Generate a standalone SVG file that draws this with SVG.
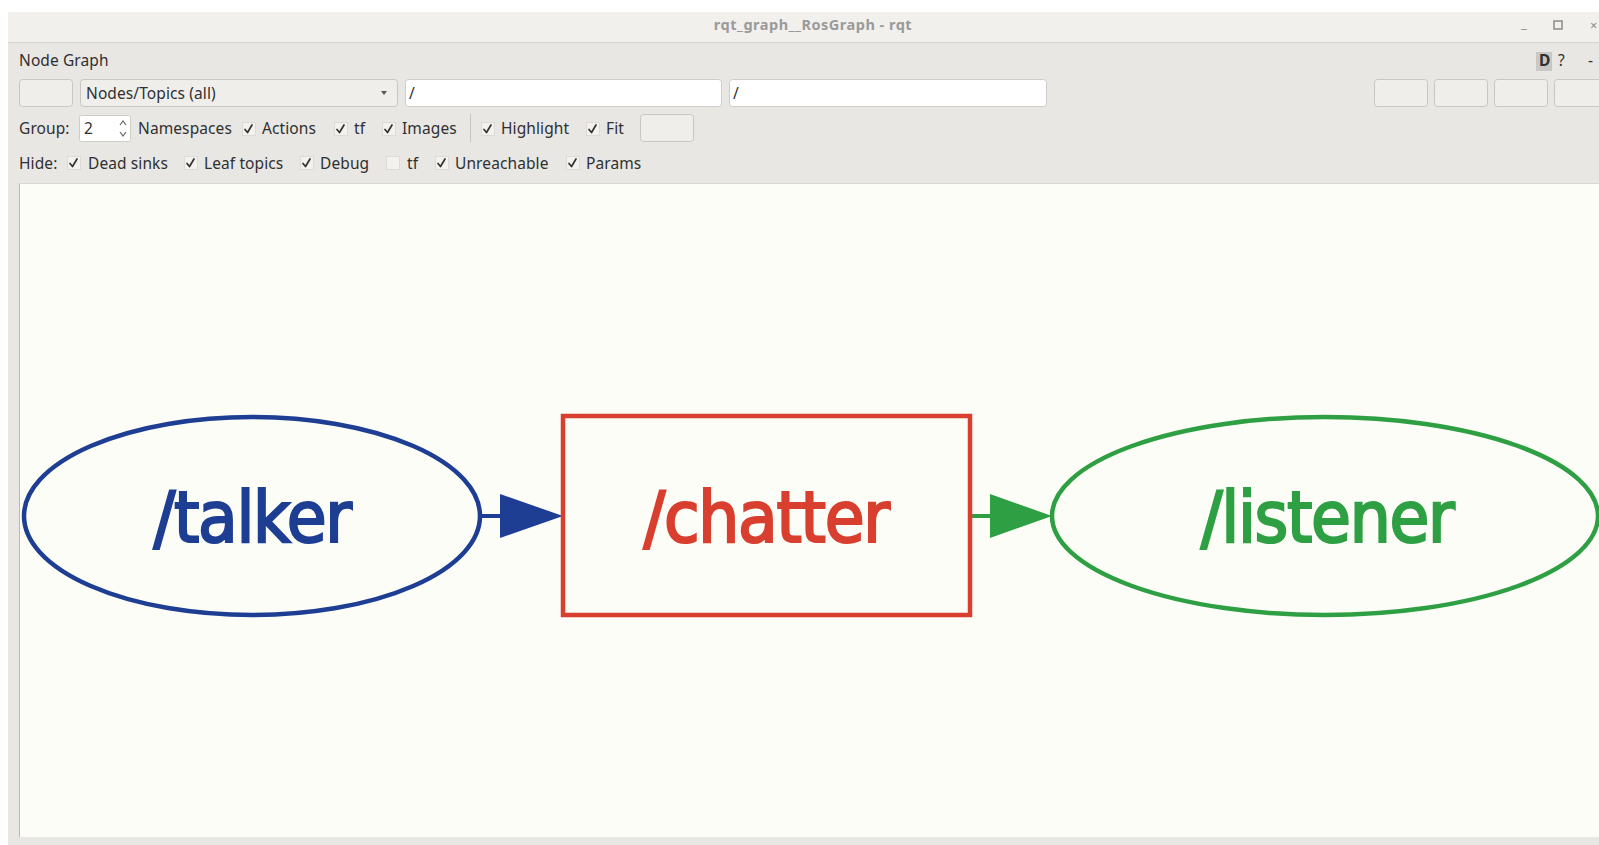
<svg xmlns="http://www.w3.org/2000/svg" width="1599" height="845" viewBox="0 0 1599 845">
  <style>
    .ui { font-family: "Noto Sans", "DejaVu Sans", sans-serif; font-size: 15.5px; fill: #303030; letter-spacing: 0.1px; }
    .title { font-family: "Noto Sans", "DejaVu Sans", sans-serif; font-size: 14.5px; font-weight: bold; fill: #9a9a9a; letter-spacing: 0.5px; }
    .ctl { font-family: "Noto Sans", "DejaVu Sans", sans-serif; font-size: 13px; fill: #8c8c8c; }
    .btn { fill: #efeeeb; stroke: #c9c7c2; stroke-width: 1; }
    .field { fill: #ffffff; stroke: #cfcdc8; stroke-width: 1; }
    .cb { fill: #f3f2ef; stroke: #dddbd6; stroke-width: 1; }
    .tick { fill: none; stroke: #333; stroke-width: 1.7; stroke-linecap: round; stroke-linejoin: round; }
    .label { font-family: "DejaVu Sans Condensed", "DejaVu Sans", sans-serif; font-size: 72px; text-anchor: middle; stroke-width: 2.2; letter-spacing: -1.3px; }
  </style>
  <defs>
    <path id="chk" d="M3,7.5 L5.5,10.5 L10,3" class="tick"/>
  </defs>

  <!-- screen background and window frame -->
  <rect x="0" y="0" width="1599" height="845" fill="#ffffff"/>
  <rect x="8" y="12" width="1591" height="833" fill="#e8e7e3"/>

  <!-- title bar -->
  <rect x="8" y="12" width="1591" height="30" fill="#f2f0ec"/>
  <line x1="8" y1="42.5" x2="1599" y2="42.5" stroke="#d4d2cd"/>
  <text class="title" x="813" y="30" text-anchor="middle">rqt_graph__RosGraph - rqt</text>
  <text class="ctl" x="1521" y="28">_</text>
  <rect x="1554" y="21" width="8" height="8" fill="none" stroke="#8c8c8c" stroke-width="1.5"/>
  <text class="ctl" x="1590" y="30">×</text>

  <!-- plugin header -->
  <text class="ui" x="19" y="66">Node Graph</text>
  <rect x="1536" y="52" width="16" height="19" fill="#c9c8c4"/>
  <text class="ui" x="1539" y="66" style="font-weight:bold">D</text>
  <text class="ui" x="1558" y="66">?</text>
  <text class="ui" x="1588" y="66">-</text>

  <!-- filter row -->
  <rect class="btn" x="19.5" y="79.5" width="53" height="27" rx="3"/>
  <rect class="btn" x="80.5" y="79.5" width="317" height="27" rx="3"/>
  <text class="ui" x="86" y="99">Nodes/Topics (all)</text>
  <path d="M381,91 L387,91 L384,95 Z" fill="#555"/>
  <rect class="field" x="405.5" y="79.5" width="316" height="27" rx="3"/>
  <text class="ui" x="409" y="99">/</text>
  <rect class="field" x="729.5" y="79.5" width="317" height="27" rx="3"/>
  <text class="ui" x="733" y="99">/</text>
  <rect class="btn" x="1374.5" y="79.5" width="53" height="27" rx="3"/>
  <rect class="btn" x="1434.5" y="79.5" width="53" height="27" rx="3"/>
  <rect class="btn" x="1494.5" y="79.5" width="53" height="27" rx="3"/>
  <rect class="btn" x="1554.5" y="79.5" width="53" height="27" rx="3"/>

  <!-- options row -->
  <text class="ui" x="19" y="134">Group:</text>
  <rect class="field" x="79.5" y="115.5" width="51" height="26" rx="2"/>
  <text class="ui" x="84" y="134">2</text>
  <path d="M120,125 L123,121 L126,125 M120,132 L123,136 L126,132" fill="none" stroke="#666" stroke-width="1.2"/>
  <text class="ui" x="138" y="134">Namespaces</text>
  <rect class="cb" x="242.5" y="122.5" width="13" height="13"/><use href="#chk" x="242" y="122"/>
  <text class="ui" x="262" y="134">Actions</text>
  <rect class="cb" x="334.5" y="122.5" width="13" height="13"/><use href="#chk" x="334" y="122"/>
  <text class="ui" x="354" y="134">tf</text>
  <rect class="cb" x="382.5" y="122.5" width="13" height="13"/><use href="#chk" x="382" y="122"/>
  <text class="ui" x="402" y="134">Images</text>
  <line x1="470.5" y1="114" x2="470.5" y2="142" stroke="#c9c7c2"/>
  <rect class="cb" x="481.5" y="122.5" width="13" height="13"/><use href="#chk" x="481" y="122"/>
  <text class="ui" x="501" y="134">Highlight</text>
  <rect class="cb" x="586.5" y="122.5" width="13" height="13"/><use href="#chk" x="586" y="122"/>
  <text class="ui" x="606" y="134">Fit</text>
  <rect class="btn" x="640.5" y="114.5" width="53" height="27" rx="3"/>

  <!-- hide row -->
  <text class="ui" x="19" y="169">Hide:</text>
  <rect class="cb" x="67.5" y="156.5" width="13" height="13"/><use href="#chk" x="67" y="156"/>
  <text class="ui" x="88" y="169">Dead sinks</text>
  <rect class="cb" x="184.5" y="156.5" width="13" height="13"/><use href="#chk" x="184" y="156"/>
  <text class="ui" x="204" y="169">Leaf topics</text>
  <rect class="cb" x="300.5" y="156.5" width="13" height="13"/><use href="#chk" x="300" y="156"/>
  <text class="ui" x="320" y="169">Debug</text>
  <rect class="cb" x="386.5" y="156.5" width="13" height="13"/>
  <text class="ui" x="407" y="169">tf</text>
  <rect class="cb" x="435.5" y="156.5" width="13" height="13"/><use href="#chk" x="435" y="156"/>
  <text class="ui" x="455" y="169">Unreachable</text>
  <rect class="cb" x="566.5" y="156.5" width="13" height="13"/><use href="#chk" x="566" y="156"/>
  <text class="ui" x="586" y="169">Params</text>

  <!-- graph canvas -->
  <rect x="19" y="183" width="1580" height="654" fill="#fdfdf8"/>
  <line x1="19.5" y1="183" x2="19.5" y2="837" stroke="#b9b8b3" stroke-width="1"/>
  <line x1="19" y1="183.5" x2="1599" y2="183.5" stroke="#d9d8d3" stroke-width="1"/>

  <!-- connectors -->
  <g id="edges">
    <g id="edge-talker-chatter">
      <line x1="480" y1="516" x2="500" y2="516" stroke="#1d3e93" stroke-width="4"/>
      <path d="M500,494 L563,516 L500,538 Z" fill="#1d3e93"/>
    </g>
    <g id="edge-chatter-listener">
      <line x1="970" y1="516" x2="990" y2="516" stroke="#2ea043" stroke-width="4"/>
      <path d="M990,494 L1052,516 L990,538 Z" fill="#2ea043"/>
    </g>
  </g>

  <!-- nodes -->
  <g id="node-talker">
    <ellipse cx="252" cy="516" rx="228" ry="99" fill="none" stroke="#1d3e93" stroke-width="4.5"/>
    <text class="label" x="252" y="542" fill="#1d3e93" stroke="#1d3e93">/talker</text>
  </g>
  <g id="node-chatter">
    <rect x="563" y="416" width="407" height="199" fill="none" stroke="#d83f2f" stroke-width="4.5"/>
    <text class="label" x="766" y="542" fill="#d83f2f" stroke="#d83f2f">/chatter</text>
  </g>
  <g id="node-listener">
    <ellipse cx="1325" cy="516" rx="273" ry="99" fill="none" stroke="#2ea043" stroke-width="4.5"/>
    <text class="label" x="1327" y="542" fill="#2ea043" stroke="#2ea043">/listener</text>
  </g>
</svg>
